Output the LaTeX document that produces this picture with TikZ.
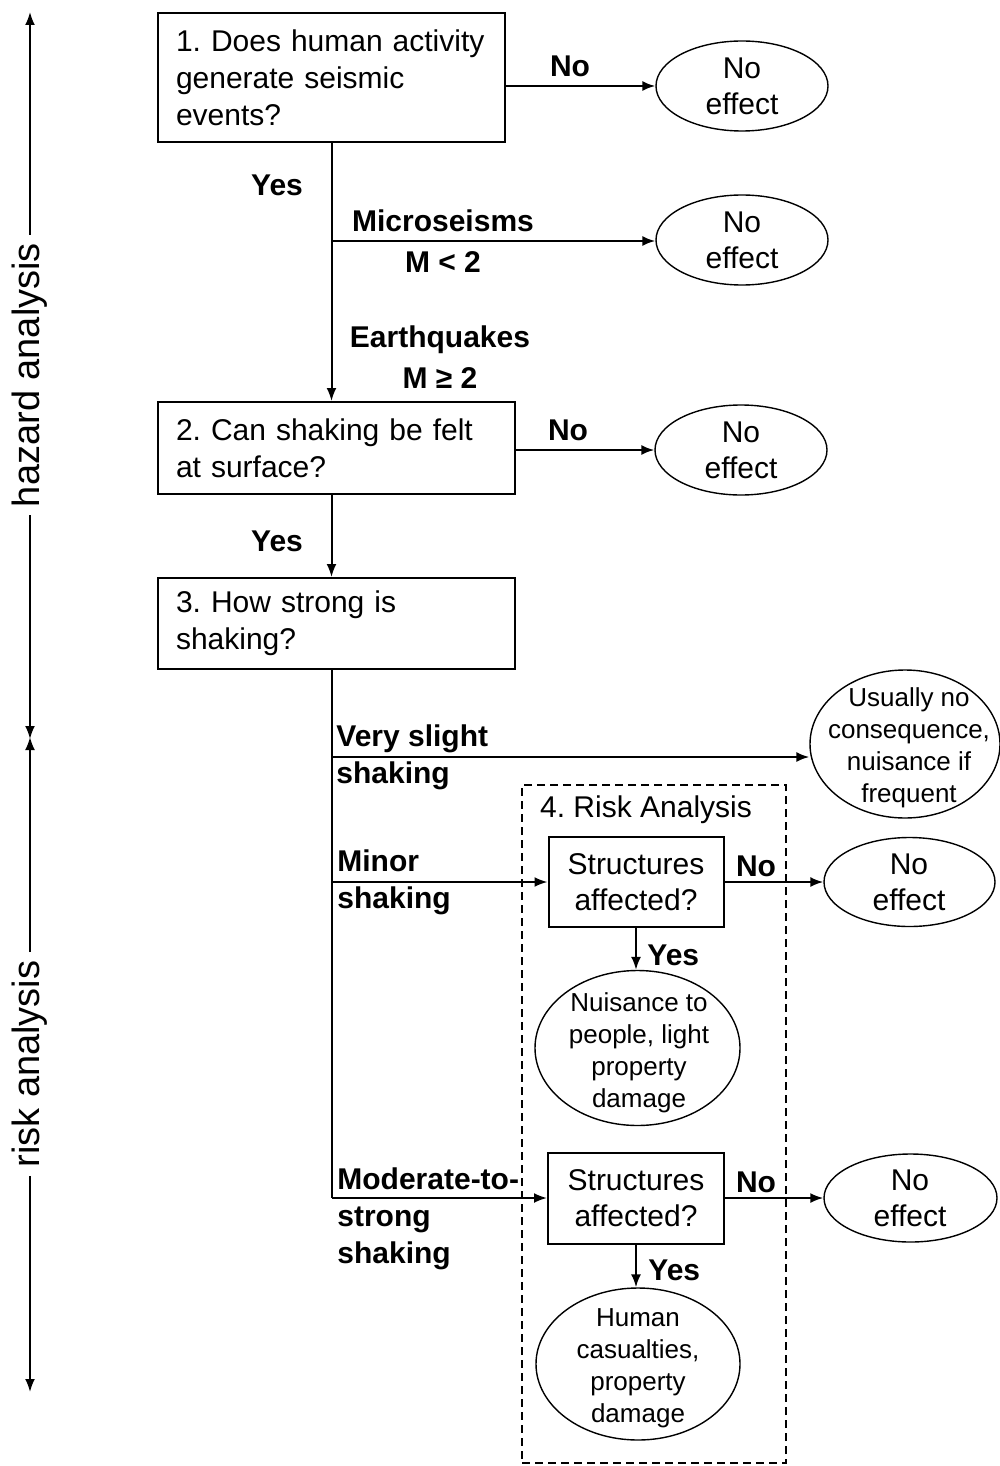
\documentclass[tikz,border=0pt]{standalone}
\usepackage{fontspec}
\setmainfont{Liberation Sans}
\usetikzlibrary{arrows.meta,shapes.geometric}
\frenchspacing
\hyphenpenalty=10000
\begin{document}
\begin{tikzpicture}[x=0.5pt,y=-0.5pt,
  box/.style={draw,line width=1pt,rectangle,inner sep=0pt,font=\fontsize{15}{18.5}\selectfont},
  ell/.style={draw,line width=0.7pt,ellipse,inner sep=0pt},
  elltxt/.style={align=center,font=\fontsize{15}{18}\selectfont,inner sep=0pt},
  smalltxt/.style={align=center,font=\fontsize{13}{16}\selectfont,inner sep=0pt},
  lbl/.style={font=\fontsize{15}{18.5}\selectfont\bfseries,inner sep=0pt},
  lblleft/.style={font=\fontsize{15}{18.5}\selectfont\bfseries,inner sep=0pt,align=left,anchor=west},
  ln/.style={line width=1pt},
  arr/.style={line width=1pt,-{Latex[length=6.5pt,width=5pt]}},
  axtxt/.style={rotate=90,font=\fontsize{19}{22}\selectfont,inner sep=4pt},
]
\useasboundingbox (0,0) rectangle (1000,1466);

% left axis
\node[axtxt] (hz) at (30,375) {hazard analysis};
\node[axtxt] (rk) at (30,1064) {risk analysis};
\coordinate (hzt) at (30,12);
\coordinate (hzb) at (30,739);
\coordinate (rkt) at (30,737);
\coordinate (rkb) at (30,1392);
\draw[arr] (hz) -- (hzt);
\draw[arr] (hz) -- (hzb);
\draw[arr] (rk) -- (rkt);
\draw[arr] (rk) -- (rkb);

% boxes
\node[box,minimum width=173.5pt,minimum height=64.5pt,inner xsep=9pt,text width=155.5pt,align=left] (b1) at (331.5,77.5)
  {1. Does human activity\\generate seismic\\events?};
\node[box,minimum width=178.5pt,minimum height=46pt,inner xsep=9pt,text width=160.5pt,align=left] (b2) at (336.5,448)
  {2. Can shaking be felt\\at surface?};
\node[box,minimum width=178.5pt,minimum height=45.5pt,inner xsep=9pt,text width=160.5pt,align=left] (b3) at (336.5,623.5)
  {3. How strong is\\shaking?};
\node[box,minimum width=87.5pt,minimum height=45pt,align=center,font=\fontsize{15}{18}\selectfont] (b4) at (636,882)
  {Structures\\affected?};
\node[box,minimum width=88pt,minimum height=45.5pt,align=center,font=\fontsize{15}{18}\selectfont] (b5) at (636,1198)
  {Structures\\affected?};

% ellipses
\node[ell,minimum width=86pt,minimum height=45pt] (e1) at (742,86) {};
\node[elltxt] (e1t) at (742,86) {No\\effect};
\node[ell,minimum width=86pt,minimum height=45pt] (e2) at (742,240) {};
\node[elltxt] (e2t) at (742,240) {No\\effect};
\node[ell,minimum width=86pt,minimum height=45pt] (e3) at (741,450) {};
\node[elltxt] (e3t) at (741,450) {No\\effect};
\node[ell,minimum width=95pt,minimum height=74pt] (e4) at (905,744) {};
\node[smalltxt] (e4t) at (909,748) {Usually no\\consequence,\\nuisance if\\frequent};
\node[ell,minimum width=85.5pt,minimum height=44.5pt] (e5) at (909.5,882) {};
\node[elltxt] (e5t) at (909,882) {No\\effect};
\node[ell,minimum width=102.5pt,minimum height=77.5pt] (e6) at (637.5,1048) {};
\node[smalltxt] (e6t) at (639,1053) {Nuisance to\\people, light\\property\\damage};
\node[ell,minimum width=86.5pt,minimum height=44pt] (e7) at (910.5,1198) {};
\node[elltxt] (e7t) at (910,1198) {No\\effect};
\node[ell,minimum width=102pt,minimum height=76pt] (e8) at (638,1364) {};
\node[smalltxt] (e8t) at (638,1368) {Human\\casualties,\\property\\damage};

% dashed risk analysis box
\node[draw,dashed,line width=0.75pt,dash pattern=on 4pt off 2.5pt,minimum width=132pt,minimum height=339pt,inner sep=0pt] (ra) at (654,1124) {};
\node[font=\fontsize{15}{18}\selectfont,inner sep=0pt] (rat) at (646,810) {4. Risk Analysis};

% junctions
\coordinate (j1) at (331.5,241);
\coordinate (j4) at (331.5,757);
\coordinate (j5) at (331.5,882);
\coordinate (j6) at (331.5,1198);

% connectors
\draw[arr] (b1.east |- e1.west) -- (e1.west);
\draw[arr] (b1.south -| j1) -- (b2.north -| j1);
\draw[arr] (j1) -- (j1 -| e2.west);
\draw[arr] (b2.east |- e3.west) -- (e3.west);
\draw[arr] (b2.south -| j1) -- (b3.north -| j1);
\draw[ln] (b3.south -| j6) -- (j6);
\draw[arr] (j4) -- (j4 -| e4.west);
\draw[arr] (j5) -- (b4.west);
\draw[arr] (b4.east) -- (e5.west);
\draw[arr] (b4.south) -- (b4.south |- e6.north);
\draw[arr] (j6) -- (b5.west);
\draw[arr] (b5.east) -- (e7.west);
\draw[arr] (b5.south) -- (b5.south |- e8.north);

% labels
\node[lbl] (l1) at (570,66) {No};
\node[lbl] (l2) at (277,185) {Yes};
\node[lbl] (l3) at (443,221) {Microseisms};
\node[lbl] (l4) at (443,262) {M < 2};
\node[lbl] (l5) at (440,340) {Earthquakes};
\node[lbl] (l6) at (440,378) {M ≥ 2};
\node[lbl] (l7) at (568,430) {No};
\node[lbl] (l8) at (277,541) {Yes};
\node[lblleft] (l9) at (336,757.5) {Very slight\\shaking};
\node[lblleft] (l10) at (337,882.5) {Minor\\shaking};
\node[lblleft] (l11) at (337,1219) {Moderate-to-\\strong\\shaking};
\node[lbl] (l12) at (756,866) {No};
\node[lbl] (l13) at (756,1182) {No};
\node[lbl,anchor=west] (l14) at (647,955) {Yes};
\node[lbl,anchor=west] (l15) at (648,1270) {Yes};
\end{tikzpicture}
\end{document}
